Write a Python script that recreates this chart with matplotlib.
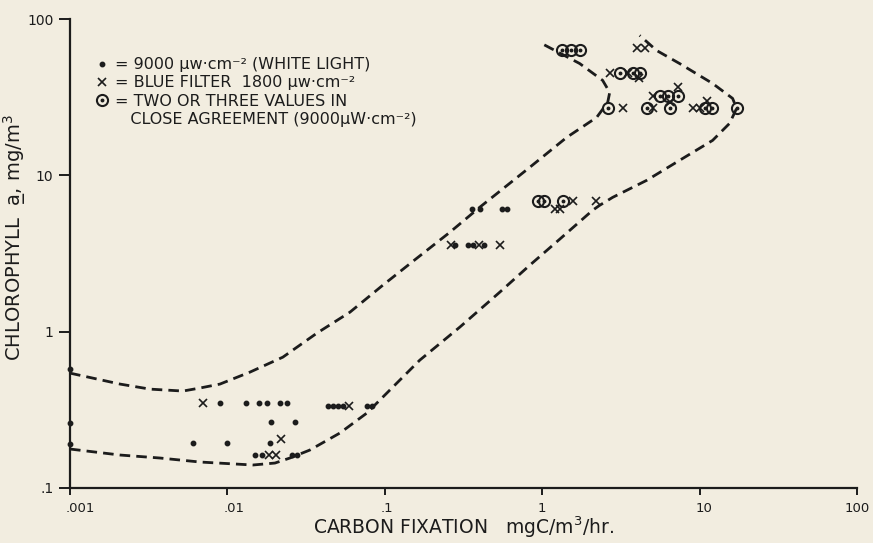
import matplotlib
matplotlib.use('Agg')
import matplotlib.pyplot as plt
from matplotlib.lines import Line2D
from matplotlib.transforms import ScaledTranslation

# white light points (9000 uW/cm2)
dot_x = [0.001, 0.001, 0.001,
         0.00896, 0.0131, 0.0158, 0.0178, 0.0215, 0.0239,
         0.0189, 0.0268,
         0.00604, 0.0100, 0.0186,
         0.0149, 0.0166, 0.0257, 0.0276,
         0.0435, 0.0468, 0.0503, 0.0541, 0.0769, 0.0827,
         0.278, 0.336, 0.362, 0.425,
         0.357, 0.401, 0.553, 0.595]
dot_y = [0.574, 0.26, 0.191,
         0.348, 0.348, 0.348, 0.348, 0.348, 0.348,
         0.264, 0.264,
         0.194, 0.194, 0.194,
         0.162, 0.162, 0.162, 0.162,
         0.334, 0.334, 0.334, 0.334, 0.334, 0.334,
         3.61, 3.61, 3.61, 3.61,
         6.12, 6.12, 6.12, 6.12]

# blue filter points (1800 uW/cm2)
blue_x = [0.00698, 0.0219, 0.0183, 0.0203, 0.059,
          0.262, 0.395, 0.537,
          1.56, 2.19, 1.20, 1.29,
          3.98, 4.48,
          2.69, 3.49, 4.10,
          5.03, 7.25,
          3.25, 5.03, 6.46, 9.03, 10.0, 11.07]
blue_y = [0.348, 0.205, 0.162, 0.162, 0.334,
          3.61, 3.61, 3.61,
          6.89, 6.89, 6.12, 6.12,
          65.2, 65.2,
          45.2, 45.2, 42.0,
          32.4, 36.5,
          26.8, 26.8, 29.5, 26.8, 26.8, 30.1]

# two or three values in close agreement
agree_x = [0.94, 1.02, 1.36,
           1.33, 1.52, 1.73,
           3.10, 3.76, 4.16,
           5.57, 6.26, 7.25,
           2.61, 4.61, 6.46, 10.77, 11.9, 17.18]
agree_y = [6.89, 6.89, 6.89,
           63.3, 63.3, 63.3,
           45.2, 45.2, 45.2,
           32.4, 32.4, 32.4,
           26.8, 26.8, 26.8, 26.8, 26.8, 26.8]

# envelope curves (dashed)
upper_x = [0.001, 0.00208, 0.00322, 0.00522, 0.00669, 0.00896, 0.0139, 0.0225,
           0.037, 0.060, 0.0971, 0.1597, 0.2587, 0.401, 0.833, 1.431, 2.218,
           2.606, 2.684, 2.42, 1.73, 0.964]
upper_y = [0.543, 0.462, 0.429, 0.417, 0.436, 0.462, 0.551, 0.687,
           0.978, 1.332, 1.982, 2.949, 4.32, 6.25, 11.25, 17.49, 23.48,
           29.27, 33.92, 40.5, 51.9, 70.8]
lower_x = [0.001, 0.00208, 0.00373, 0.00669, 0.01452, 0.02004, 0.02494, 0.0334,
           0.0518, 0.0769, 0.1124, 0.1668, 0.2995, 0.537, 0.833, 1.29, 2.092,
           2.317, 2.803, 4.61, 7.46, 12.09, 15.5, 17.18, 16.2, 12.09, 7.46,
           5.33, 4.16]
lower_y = [0.1775, 0.1625, 0.1555, 0.1466, 0.1403, 0.1444, 0.1555, 0.1749,
           0.2246, 0.3016, 0.4419, 0.6575, 1.069, 1.788, 2.66, 3.90, 5.98,
           6.43, 7.23, 9.29, 12.47, 16.73, 21.5, 26.8, 31.05, 38.7, 51.9,
           62.9, 78.5]

x_ticks = [0.001, 0.01, 0.1, 1, 10, 100]
x_labels = ['.001', '.01', '.1', '1', '10', '100']
y_ticks = [0.1, 1, 10, 100]
y_labels = ['.1', '1', '10', '100']

bg = '#f2ede0'
ink = '#1c1c1c'

fig = plt.figure(figsize=(8.73, 5.43), dpi=100, facecolor=bg)
ax = fig.add_axes([0.0802, 0.1013, 0.9015, 0.8637], facecolor=bg)
ax.set_xscale('log')
ax.set_yscale('log')
ax.set_xlim(0.001, 100)
ax.set_ylim(0.1, 100)

dash = dict(color=ink, lw=2.0, dashes=(3.8, 2.2), solid_capstyle='butt')
ax.plot(upper_x, upper_y, **dash)
ax.plot(lower_x, lower_y, **dash)

ax.plot(dot_x, dot_y, ls='none', marker='o', ms=3.2, color=ink, clip_on=False)
ax.plot(blue_x, blue_y, ls='none', marker='x', ms=6, mew=1.2, color=ink)
ax.plot(agree_x, agree_y, ls='none', marker='o', ms=8, mfc='none', mec=ink,
        mew=1.5)
ax.plot(agree_x, agree_y, ls='none', marker='o', ms=1.8, color=ink)

for s in ['top', 'right']:
    ax.spines[s].set_visible(False)
for s in ['left', 'bottom']:
    ax.spines[s].set_color(ink)
    ax.spines[s].set_linewidth(1.6)

ax.set_xticks(x_ticks)
ax.set_xticklabels(x_labels, ha='left')
ax.set_yticks(y_ticks)
ax.set_yticklabels(y_labels)
ax.minorticks_off()
ax.tick_params(axis='x', direction='out', length=5, width=1.4, pad=5,
               labelsize=9.5, colors=ink)
ax.tick_params(axis='y', direction='out', length=8, width=1.4, pad=4,
               labelsize=10, colors=ink)
xlabs = ax.get_xticklabels()
for lab in xlabs[:-1]:
    lab.set_transform(lab.get_transform() +
                      ScaledTranslation(-3 / 72, 0, fig.dpi_scale_trans))
xlabs[-1].set_transform(xlabs[-1].get_transform() +
                        ScaledTranslation(-9 / 72, 0, fig.dpi_scale_trans))

ax.set_xlabel('CARBON FIXATION   mgC/m$^3$/hr.', fontsize=13.5, color=ink,
              labelpad=0)
ax.set_ylabel('CHLOROPHYLL  a\u0332, mg/m$^3$', fontsize=14, color=ink)
ax.yaxis.set_label_coords(-0.053, 0.535)

h_dot = Line2D([], [], ls='none', marker='o', ms=3.2, color=ink)
h_x = Line2D([], [], ls='none', marker='x', ms=6, mew=1.2, color=ink)
h_c1 = Line2D([], [], ls='none', marker='o', ms=8, mfc='none', mec=ink, mew=1.5)
h_c2 = Line2D([], [], ls='none', marker='o', ms=1.8, color=ink)
h_none = Line2D([], [], ls='none')
leg = ax.legend([h_dot, h_x, (h_c1, h_c2), h_none],
                ['= 9000 μw·cm⁻² (WHITE LIGHT)',
                 '= BLUE FILTER  1800 μw·cm⁻²',
                 '= TWO OR THREE VALUES IN',
                 '   CLOSE AGREEMENT (9000μW·cm⁻²)'],
                loc='upper left', bbox_to_anchor=(0.025, 0.932),
                frameon=False, handlelength=0.8, handletextpad=0.4,
                labelspacing=0.2, fontsize=11.5, borderaxespad=0)
for t in leg.get_texts():
    t.set_color(ink)

fig.savefig('out.png', dpi=100, facecolor=bg)
